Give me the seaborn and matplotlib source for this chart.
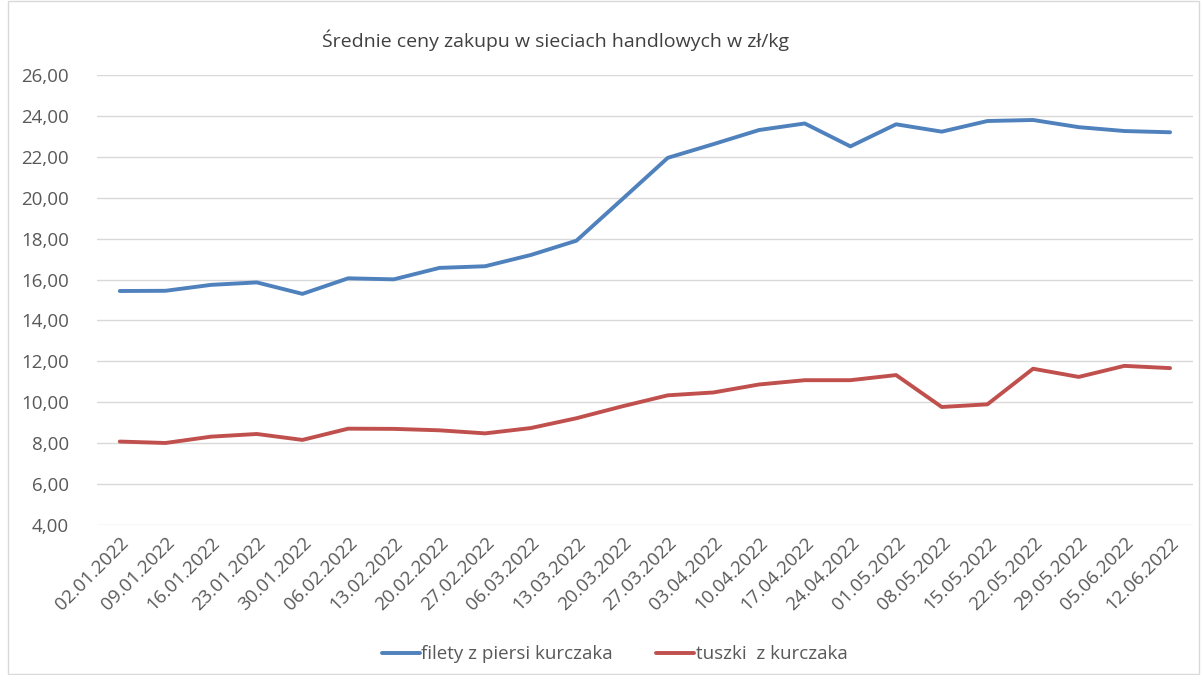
import pandas as pd
import matplotlib.pyplot as plt
import matplotlib.ticker as mticker
from matplotlib.patches import Rectangle
import seaborn as sns

dates = ["02.01.2022", "09.01.2022", "16.01.2022", "23.01.2022", "30.01.2022",
         "06.02.2022", "13.02.2022", "20.02.2022", "27.02.2022", "06.03.2022",
         "13.03.2022", "20.03.2022", "27.03.2022", "03.04.2022", "10.04.2022",
         "17.04.2022", "24.04.2022", "01.05.2022", "08.05.2022", "15.05.2022",
         "22.05.2022", "29.05.2022", "05.06.2022", "12.06.2022"]

filety = [15.44, 15.45, 15.74, 15.86, 15.30, 16.06, 16.01, 16.57, 16.65, 17.20,
          17.90, 19.92, 21.95, 22.62, 23.31, 23.63, 22.51, 23.59, 23.23, 23.75,
          23.80, 23.45, 23.26, 23.20]

tuszki = [8.08, 8.01, 8.32, 8.45, 8.16, 8.71, 8.70, 8.63, 8.48, 8.74,
          9.22, 9.80, 10.34, 10.48, 10.87, 11.08, 11.08, 11.33, 9.77, 9.90,
          11.64, 11.24, 11.78, 11.67]

series_names = ["filety z piersi kurczaka", "tuszki  z kurczaka"]
colors = ["#4F81BD", "#C0504D"]

df = pd.DataFrame({"data": dates * 2,
                   "cena": filety + tuszki,
                   "seria": [series_names[0]] * len(dates) + [series_names[1]] * len(dates)})
df["pos"] = list(range(len(dates))) * 2

sns.set_style("white")
plt.rcParams["font.family"] = ["Open Sans", "DejaVu Sans"]

fig = plt.figure(figsize=(12.03, 6.75), dpi=100)
ax = fig.add_axes([0.0806, 0.2222, 0.911, 0.6667])

sns.lineplot(data=df, x="pos", y="cena", hue="seria", palette=colors,
             linewidth=2.8, ax=ax, sort=False)

ax.set_xlim(-0.5, len(dates) - 0.5)
ax.set_ylim(4, 26)
ax.yaxis.set_major_locator(mticker.MultipleLocator(2))
ax.yaxis.set_major_formatter(mticker.FuncFormatter(lambda v, p: f"{v:.2f}".replace(".", ",")))
ax.grid(axis="y", color="#d9d9d9", linewidth=1)
ax.set_axisbelow(True)
for s in ax.spines.values():
    s.set_visible(False)

ax.set_xticks(range(len(dates)))
ax.set_xticklabels(dates, rotation=45, ha="right", rotation_mode="anchor")
ax.tick_params(axis="x", length=0, pad=6, labelsize=13.5, labelcolor="#595959")
ax.tick_params(axis="y", length=0, pad=20, labelsize=13.5, labelcolor="#595959")
ax.set_xlabel("")
ax.set_ylabel("")

fig.text(0.462, 0.94, "Średnie ceny zakupu w sieciach handlowych w zł/kg",
         ha="center", va="center", fontsize=14, color="#404040")

handles, labels = ax.get_legend_handles_labels()
ax.legend(handles, labels, loc="center", bbox_to_anchor=(0.511, 0.031),
          bbox_transform=fig.transFigure, ncol=2, frameon=False,
          fontsize=13.5, labelcolor="#595959", handlelength=2.0,
          handletextpad=0.1, columnspacing=2.3)

fig.patches.append(Rectangle((0.007, 0.002), 0.99, 0.996, transform=fig.transFigure,
                             fill=False, edgecolor="#d9d9d9", linewidth=1))

fig.savefig("out.png", dpi=100)
